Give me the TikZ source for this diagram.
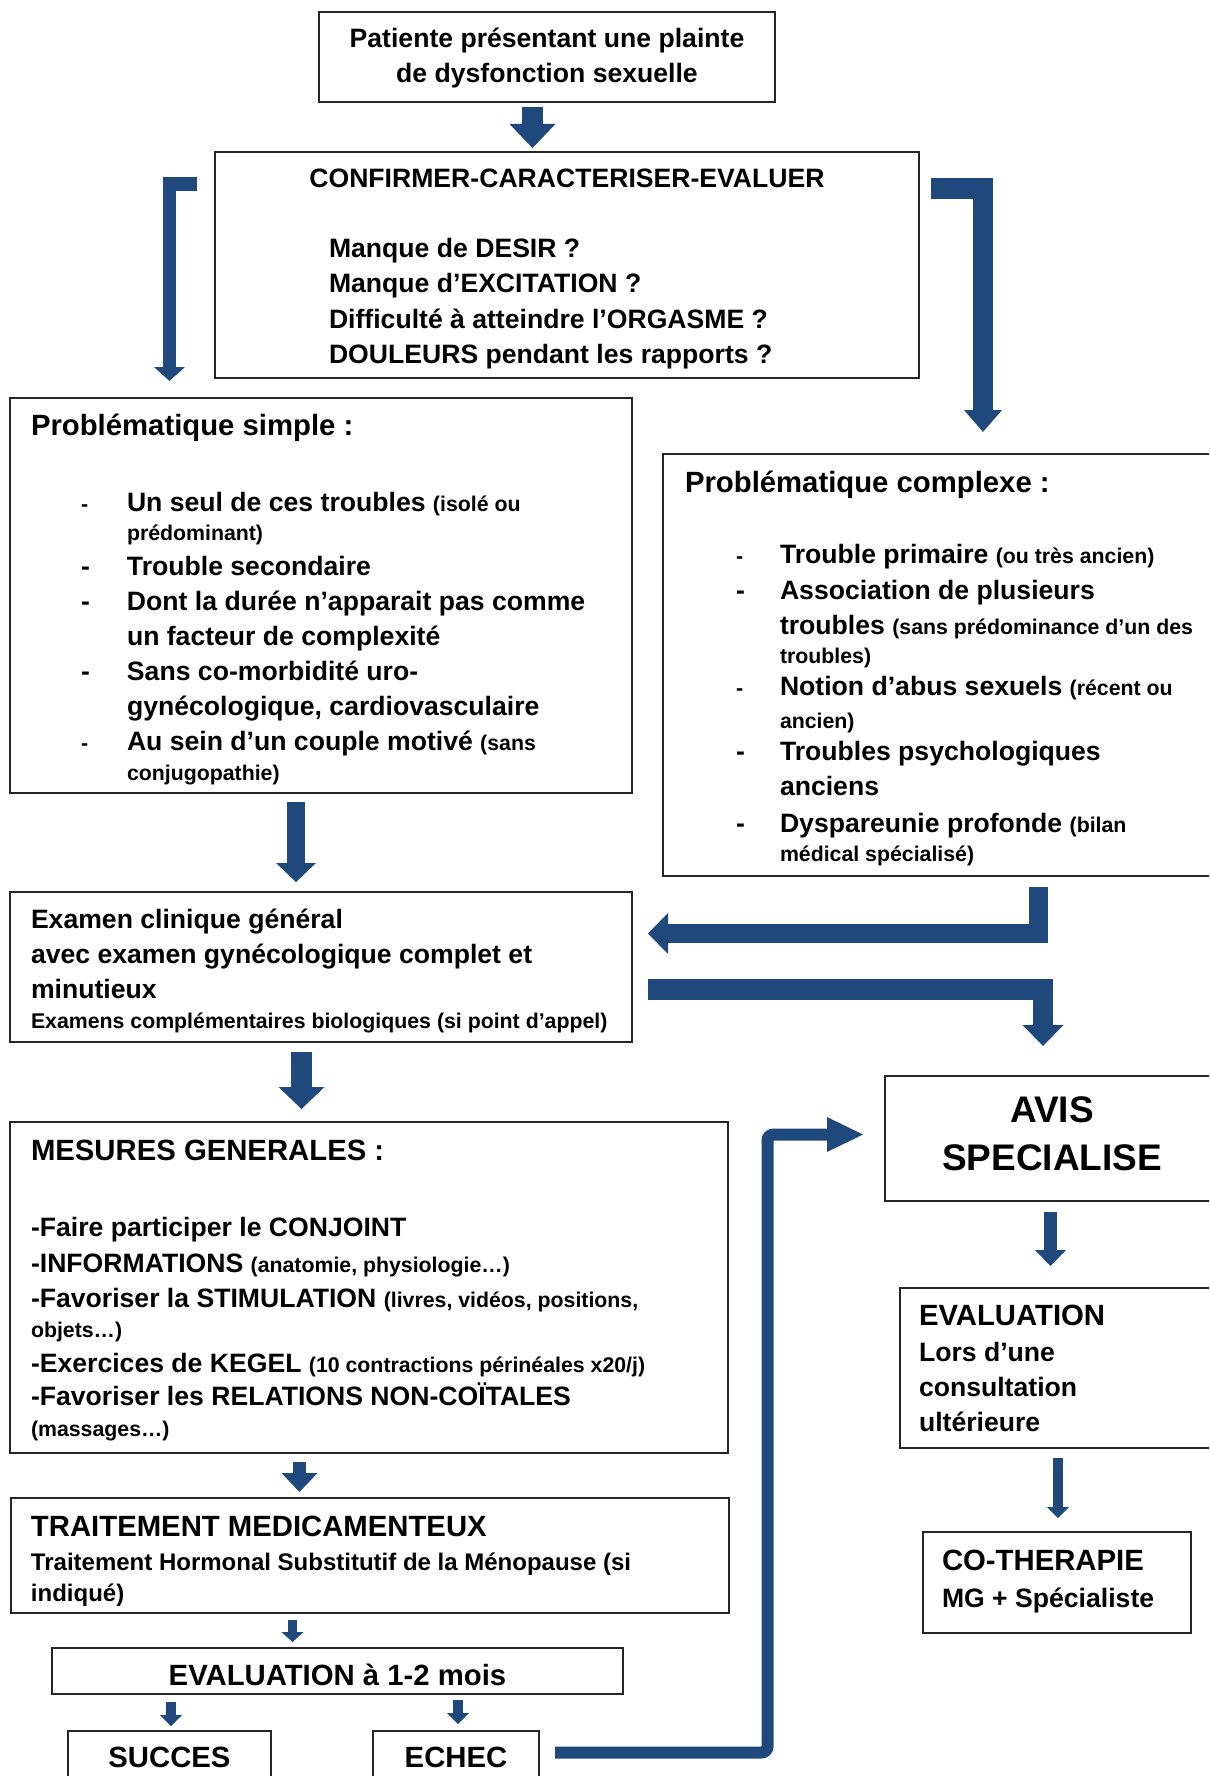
\documentclass[tikz,border=0pt]{standalone}
\usepackage{fontspec}
\setmainfont{Liberation Sans}
\usepackage{xcolor}
\usepackage{tikz}
\usetikzlibrary{arrows.meta}
\definecolor{clinicblue}{HTML}{1F497D}
\newlength{\dashskip}
\newcommand{\fbig}{\fontsize{26.6pt}{35pt}\selectfont}
\newcommand{\ftitle}{\fontsize{29.3pt}{37pt}\selectfont}
\newcommand{\fmid}{\fontsize{24pt}{32pt}\selectfont}
\newcommand{\fsmall}{\fontsize{21.3pt}{30pt}\selectfont}
\newcommand{\fhuge}{\fontsize{37pt}{48pt}\selectfont}
\newcommand{\clinicpanel}[3]{\parbox[t][#2][t]{#1}{#3}}
\newcommand{\bigdash}{\leavevmode\llap{\makebox[\dashskip][l]{-}}}
\newcommand{\smalldash}{\leavevmode\llap{\makebox[\dashskip][l]{\fsmall -}}}
\tikzset{
  clinicpicture/.style={x=1pt, y=-1pt},
  clinicbox/.style={draw=black!85, line width=1.6pt, anchor=north west, inner sep=0pt, outer sep=0pt, font=\bfseries},
  clinicarrow/.style n args={3}{draw=clinicblue, line width=#1, line join=miter, -{Triangle[width=#2, length=#3, line width=0pt]}}
}

\begin{document}
\begin{tikzpicture}[clinicpicture]
\useasboundingbox (0,0) rectangle (1209,1776);
\clip (0,0) rectangle (1209,1776);
% boxes
\node[clinicbox] (patient) at (319,12) {\clinicpanel{456pt}{90pt}{\fbig\centering\rule{0pt}{35.5pt}Patiente présentant une plainte\\de dysfonction sexuelle}};
\node[clinicbox] (confirm) at (215,152) {\clinicpanel{704pt}{226pt}{\fbig\centering\rule{0pt}{35.5pt}CONFIRMER-CARACTERISER-EVALUER\par
\raggedright\leftskip=114pt\vspace{35pt}
Manque de DESIR ?\\[0.5pt]
Manque d’EXCITATION ?\\[0.5pt]
Difficulté à atteindre l’ORGASME ?\\[0.5pt]
DOULEURS pendant les rapports ?}};
\node[clinicbox] (simple) at (10,398) {\clinicpanel{622pt}{395pt}{\fbig\raggedright\setlength{\dashskip}{46pt}\leftskip=21pt
{\ftitle\rule{0pt}{37.5pt}Problématique simple :}\par
\leftskip=117pt\vspace{41pt}
\smalldash Un seul de ces troubles {\fsmall (isolé ou}\\[-6pt]
{\fsmall prédominant)}\\
\bigdash Trouble secondaire\\
\bigdash Dont la durée n’apparait pas comme\\
un facteur de complexité\\
\bigdash Sans co-morbidité uro-\\
gynécologique, cardiovasculaire\\
\smalldash Au sein d’un couple motivé {\fsmall (sans}\\[-5pt]
{\fsmall conjugopathie)}}};
\node[clinicbox] (complexe) at (663,454) {\clinicpanel{562pt}{422pt}{\fbig\raggedright\setlength{\dashskip}{44pt}\leftskip=22pt
{\ftitle\rule{0pt}{38pt}Problématique complexe :}\par
\leftskip=117pt\vspace{36pt}
\smalldash Trouble primaire {\fsmall (ou très ancien)}\\[1pt]
\bigdash Association de plusieurs\\[0.5pt]
troubles {\fsmall (sans prédominance d’un des}\\[-6pt]
{\fsmall troubles)}\\[-3pt]
\smalldash Notion d’abus sexuels {\fsmall (récent ou}\\[-2pt]
{\fsmall ancien)}\\[-3pt]
\bigdash Troubles psychologiques\\[0pt]
anciens\\[1.5pt]
\bigdash Dyspareunie profonde {\fsmall (bilan}\\[-6pt]
{\fsmall médical spécialisé)}}};
\node[clinicbox] (examen) at (10,892) {\clinicpanel{622pt}{150pt}{\fbig\raggedright\leftskip=21pt
\rule{0pt}{36pt}Examen clinique général\\
avec examen gynécologique complet et\\
minutieux\\[-5pt]
{\fsmall Examens complémentaires biologiques (si point d’appel)}}};
\node[clinicbox] (mesures) at (10,1122) {\clinicpanel{718pt}{331pt}{\fbig\raggedright\leftskip=21pt
{\ftitle\rule{0pt}{38pt}MESURES GENERALES :}\par
\vspace{41pt}
-Faire participer le CONJOINT\\[1pt]
-INFORMATIONS {\fsmall (anatomie, physiologie…)}\\
-Favoriser la STIMULATION {\fsmall (livres, vidéos, positions,}\\[-5pt]
{\fsmall objets…)}\\[0pt]
-Exercices de KEGEL {\fsmall (10 contractions périnéales x20/j)}\\[-2pt]
-Favoriser les RELATIONS NON-COÏTALES\\[-4pt]
{\fsmall (massages…)}}};
\node[clinicbox] (traitement) at (11,1498) {\clinicpanel{718pt}{115pt}{\fbig\raggedright\leftskip=20pt
{\ftitle\rule{0pt}{38pt}TRAITEMENT MEDICAMENTEUX}\\[-1pt]
{\fmid Traitement Hormonal Substitutif de la Ménopause (si}\\[-4pt]
{\fmid indiqué)}}};
\node[clinicbox] (evalmois) at (52,1648) {\clinicpanel{571pt}{46pt}{\ftitle\centering\rule{0pt}{37pt}EVALUATION à 1-2 mois}};
\node[clinicbox] (succes) at (68,1731) {\clinicpanel{203pt}{60pt}{\ftitle\centering\rule{0pt}{36pt}SUCCES}};
\node[clinicbox] (echec) at (373,1731) {\clinicpanel{166pt}{60pt}{\ftitle\centering\rule{0pt}{36pt}ECHEC}};
\node[clinicbox] (avis) at (885,1076) {\clinicpanel{334pt}{125pt}{\fhuge\centering\rule{0pt}{46pt}AVIS\\SPECIALISE}};
\node[clinicbox] (evalspec) at (900,1288) {\clinicpanel{325pt}{160pt}{\fbig\raggedright\leftskip=19pt
{\ftitle\rule{0pt}{37pt}EVALUATION}\\[1.5pt]
Lors d’une\\
consultation\\
ultérieure}};
\node[clinicbox] (cotherapie) at (923,1532) {\clinicpanel{268pt}{101pt}{\fbig\raggedright\leftskip=19pt
{\ftitle\rule{0pt}{38pt}CO-THERAPIE}\\[2pt]
MG + Spécialiste}};
% arrows
\draw[clinicarrow={21pt}{46pt}{24pt}] ([shift={(-14.5,5)}]patient.south) -- ([shift={(-34.5,-4)}]confirm.north);
\draw[clinicarrow={13.5pt}{31pt}{14pt}] ([shift={(-18,-81)}]confirm.west) -| ([shift={(-151.5,-17)}]simple.north);
\draw[clinicarrow={20.5pt}{38pt}{22pt}] ([shift={(12,-76.5)}]confirm.east) -| ([shift={(39,-22)}]complexe.north);
\draw[clinicarrow={18pt}{40pt}{19pt}] ([shift={(-25,9)}]simple.south) -- ([shift={(-25,-10)}]examen.north);
\draw[clinicarrow={19pt}{41pt}{20pt}] ([shift={(94,11)}]complexe.south) |- ([shift={(16,-33.5)}]examen.east);
\draw[clinicarrow={20.5pt}{41pt}{21pt}] ([shift={(16,22.5)}]examen.east) -| ([shift={(-9,-30)}]avis.north);
\draw[clinicarrow={21pt}{46pt}{22pt}] ([shift={(-19.5,10)}]examen.south) -- ([shift={(-67.5,-13)}]mesures.north);
\draw[clinicarrow={12.5pt}{36pt}{19pt}] ([shift={(-69.5,9)}]mesures.south) -- ([shift={(-70.5,-6)}]traitement.north);
\draw[clinicarrow={9pt}{22pt}{10pt}] ([shift={(-77.5,7)}]traitement.south) -- ([shift={(-45,-6)}]evalmois.north);
\draw[clinicarrow={10pt}{22pt}{11pt}] ([shift={(-166.5,8)}]evalmois.south) -- ([shift={(1.5,-5)}]succes.north);
\draw[clinicarrow={10pt}{22pt}{11pt}] ([shift={(120.5,6)}]evalmois.south) -- ([shift={(2,-7)}]echec.north);
\draw[clinicarrow={13pt}{31pt}{16pt}] ([shift={(-1.5,11)}]avis.south) -- ([shift={(-12,-22)}]evalspec.north);
\draw[clinicarrow={10pt}{22pt}{11pt}] ([shift={(-4.5,10)}]evalspec.south) -- ([shift={(1,-14)}]cotherapie.north);
\draw[clinicarrow={12pt}{35pt}{36pt}, rounded corners=6pt] ([shift={(16,-8.5)}]echec.east) -| ([shift={(-117.5,-4)}]avis.west) -- ([shift={(-22,-4)}]avis.west);
\end{tikzpicture}
\end{document}
